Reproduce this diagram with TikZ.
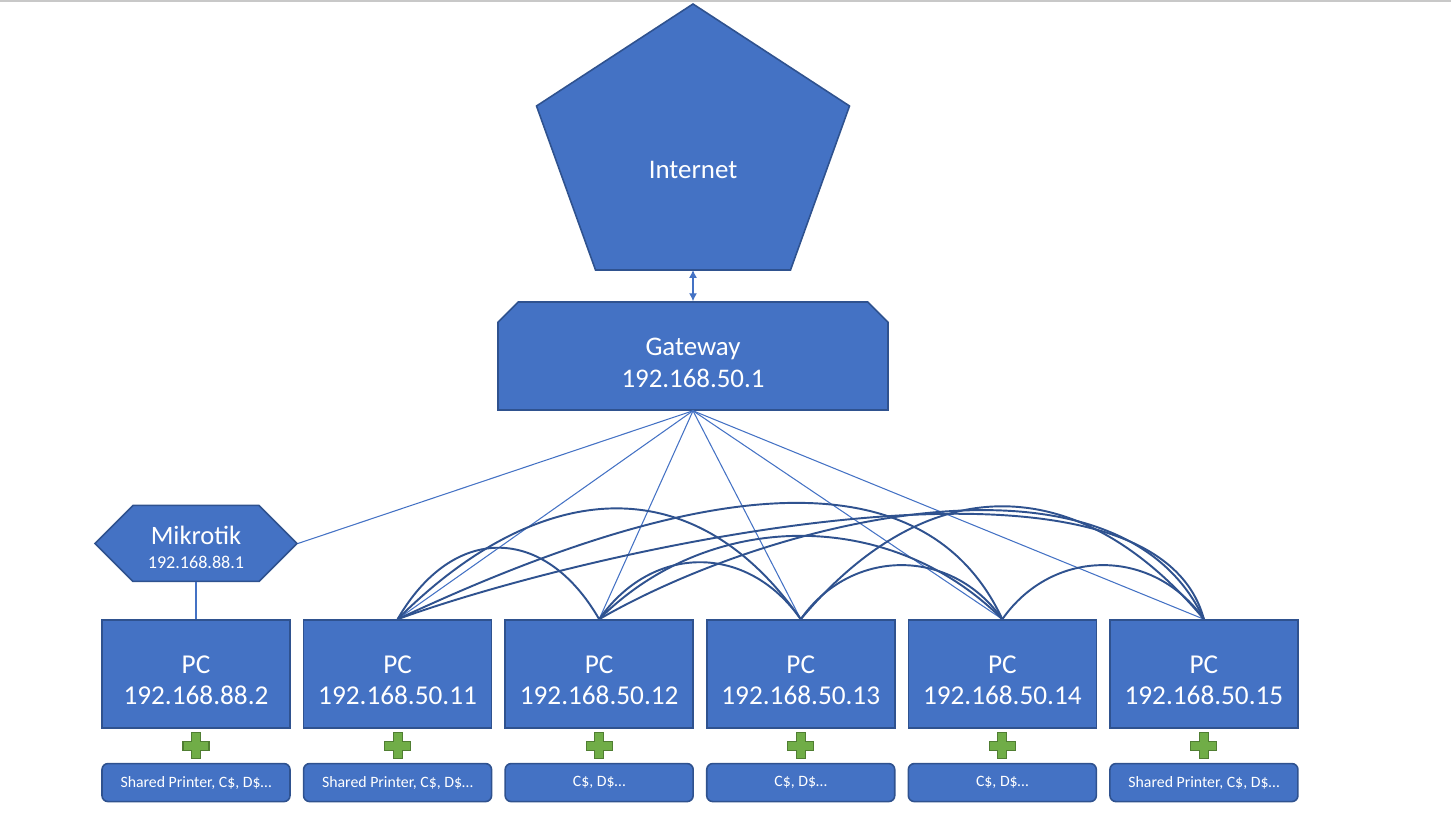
\documentclass[tikz,border=0pt]{standalone}
\usepackage{fontspec}
\setmainfont{Carlito}
\usetikzlibrary{arrows.meta,positioning,shapes.misc,shapes.symbols,calc}
\definecolor{netblue}{HTML}{4472C4}
\definecolor{netedge}{HTML}{2F528F}
\definecolor{plusgreen}{HTML}{70AD47}
\definecolor{plusedge}{HTML}{507E32}
\definecolor{rulegray}{HTML}{C8C8C8}
\tikzset{
  netshape/.style={
    draw=netedge, fill=netblue, line width=0.9pt
  },
  gwbox/.style={
    chamfered rectangle, chamfered rectangle corners={north west,north east},
    chamfered rectangle xsep=0.24cm, chamfered rectangle ysep=0.165cm,
    draw=netedge, fill=netblue, line width=0.9pt, text=white,
    minimum width=7.8cm, minimum height=2.16cm,
    font=\fontsize{15.3}{18}\selectfont, align=center, inner sep=0pt
  },
  routerbox/.style={
    signal, signal to=west and east, signal pointer angle=90,
    draw=netedge, fill=netblue, line width=0.9pt, text=white,
    minimum width=4.04cm, minimum height=1.52cm,
    font=\fontsize{15.1}{15}\selectfont, align=center, inner sep=0pt
  },
  pcbox/.style={
    rectangle, draw=netedge, fill=netblue, line width=0.9pt, text=white,
    minimum width=3.76cm, minimum height=2.16cm,
    font=\fontsize{15.5}{17.6}\selectfont, align=center, inner sep=0pt
  },
  sharebox/.style={
    rectangle, rounded corners=0.12cm, draw=netedge, fill=netblue,
    line width=0.9pt, text=white,
    minimum width=3.76cm, minimum height=0.76cm,
    font=\fontsize{9}{11}\selectfont, align=center, inner sep=0pt
  },
  uplink/.style={draw=netblue, line width=0.6pt},
  meshlink/.style={draw=netedge, line width=1.1pt},
  updown/.style={{Latex[length=4.5pt,width=4.5pt]}-{Latex[length=4.5pt,width=4.5pt]},
    draw=netblue, line width=0.6pt},
  plusmark/.style={fill=plusgreen, draw=plusedge, line width=0.6pt},
}

\begin{document}
\begin{tikzpicture}[node distance=0.24cm and 0.24cm]
  \useasboundingbox (0,0) rectangle (29.02,16.34);
  \draw[rulegray, line width=0.6pt] (0,16.32) -- (29.02,16.32);

  % internet pentagon
  \coordinate (inetmid) at (13.86,12.94);
  \draw[netshape] ($(inetmid)+(0,3.32)$) -- ($(inetmid)+(3.13,1.28)$) -- ($(inetmid)+(1.95,-2.0)$)
    -- ($(inetmid)+(-1.95,-2.0)$) -- ($(inetmid)+(-3.13,1.28)$) -- cycle;
  \node[text=white, font=\fontsize{15.3}{18}\selectfont] (inet) at (inetmid) {Internet};
  \coordinate (inetbase) at ($(inetmid)+(0,-2.0)$);

  \node[gwbox] (gw) at (13.86,9.22) {\mbox{}\\Gateway\\192.168.50.1};
  \draw[updown] (inetbase) -- (gw.north);

  % PCs
  \node[pcbox] (pc1) at (3.92,2.86) {\mbox{}\\PC\\192.168.88.2};
  \node[pcbox, right=of pc1] (pc2) {\mbox{}\\PC\\192.168.50.11};
  \node[pcbox, right=of pc2] (pc3) {\mbox{}\\PC\\192.168.50.12};
  \node[pcbox, right=of pc3] (pc4) {\mbox{}\\PC\\192.168.50.13};
  \node[pcbox, right=of pc4] (pc5) {\mbox{}\\PC\\192.168.50.14};
  \node[pcbox, right=of pc5] (pc6) {\mbox{}\\PC\\192.168.50.15};

  \node[routerbox, above=0.74cm of pc1] (mk) {\mbox{}\\Mikrotik\\[-1pt]{\fontsize{10.3}{12}\selectfont 192.168.88.1}};

  \foreach \i/\txt in {1/{Shared Printer, C\$, D\$…}, 2/{Shared Printer, C\$, D\$…},
      3/{C\$, D\$…}, 4/{C\$, D\$…}, 5/{C\$, D\$…}, 6/{Shared Printer, C\$, D\$…}} {
    \node[sharebox, below=0.68cm of pc\i] (sh\i) {\txt};
    \coordinate (pl\i) at ($(pc\i.south)!0.5!(sh\i.north)$);
    \draw[plusmark] ($(pl\i)+(-0.09,0.26)$) -- ++(0.18,0) -- ++(0,-0.17) -- ++(0.17,0)
      -- ++(0,-0.18) -- ++(-0.17,0) -- ++(0,-0.17) -- ++(-0.18,0) -- ++(0,0.17)
      -- ++(-0.17,0) -- ++(0,0.18) -- ++(0.17,0) -- cycle;
  }

  % links to gateway
  \draw[uplink] (gw.south) -- (mk.east);
  \draw[uplink] (mk.south) -- (pc1.north);
  \foreach \i in {2,...,6}
    \draw[uplink] (gw.south) -- (pc\i.north);

  % mesh between PCs
  \foreach \src/\dst/\aout/\ain/\loose in {2/3/60/120/1.4, 3/4/55/125/1.18,
      4/5/55/125/1.12, 5/6/55/125/1.12, 2/4/45/125/1.23, 3/5/45/135/1.0,
      4/6/50/130/1.25, 2/5/25/115/0.96, 3/6/30/115/0.86, 2/6/20/105/0.65}
    \draw[meshlink] (pc\src.north) to[out=\aout, in=\ain, looseness=\loose] (pc\dst.north);
\end{tikzpicture}
\end{document}
